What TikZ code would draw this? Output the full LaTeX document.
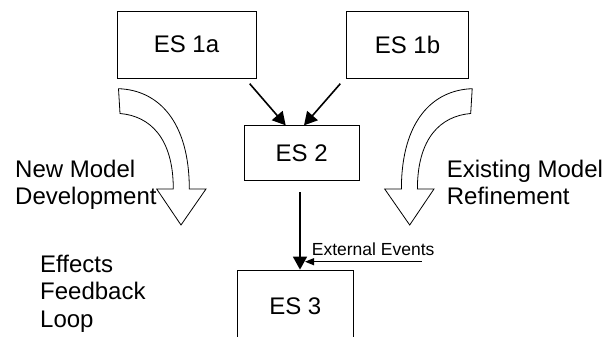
\documentclass[tikz,border=0pt]{standalone}
\usepackage{fontspec}
\setmainfont{Liberation Sans}
\usetikzlibrary{arrows.meta}

\tikzset{
  stage/.style={draw=black, line width=0.8pt, inner sep=0pt, fill=white,
    font=\fontsize{24}{27.5}\selectfont},
  label/.style={inner sep=0pt, align=left, font=\fontsize{24}{27.5}\selectfont},
  small/.style={inner sep=0pt, font=\fontsize{17.5}{20}\selectfont},
  flow/.style={line width=1.6pt, -{Triangle[length=13pt,width=14pt]}},
  inflow/.style={line width=1.1pt, -{Triangle[length=9pt,width=7pt]}},
  blockarrow/.style={draw=black, line width=0.8pt, fill=white, line join=miter},
  bendarrow/.pic={
    % curved hollow arrow, drawn relative to its tip
    \path[blockarrow]
      (-62.5,-136.3) .. controls (-23,-135) and (8.3,-104) .. (8.3,-36)
      -- (25,-36) -- (0,0) -- (-24.3,-36) -- (-7.7,-36)
      .. controls (-7.7,-87) and (-31,-109) .. (-61,-111.5) -- cycle;
  }
}

\begin{document}
\begin{tikzpicture}[x=1pt, y=-1pt]
  \clip (0,0) rectangle (603,337);
  \fill[white] (0,0) rectangle (603,337);

  % stages
  \node[stage, minimum width=139pt, minimum height=67pt] (es1a) at (186.5,44.5) {ES 1a};
  \node[stage, minimum width=121.6pt, minimum height=67pt] (es1b) at (407.5,44.5) {ES 1b};
  \node[stage, minimum width=115.3pt, minimum height=54.3pt] (es2) at (301.7,152.9) {ES 2};
  \node[stage, minimum width=116pt, minimum height=72pt] (es3) at (295.3,306) {ES 3};

  % merging arrows into ES 2
  \draw[flow] ([shift={(-6.7,5.3)}]es1a.south east) -- ([shift={(-16,0)}]es2.north);
  \draw[flow] ([shift={(-6,5.3)}]es1b.south west) -- ([shift={(2.3,0)}]es2.north);

  % ES 2 to ES 3
  \coordinate (down) at (300,192.3);
  \draw[flow] (down) -- (down |- es3.north);

  % external events
  \coordinate (extsrc) at (421.7,261.7);
  \coordinate (extdst) at (305,261.7);
  \draw[inflow] (extsrc) -- (extdst);
  \node[small, anchor=base west] (ext) at (311.7,255.7) {External Events};

  % curved development arrows
  \pic at (181,225) {bendarrow};
  \pic[xscale=-1] at (409.7,225) {bendarrow};

  % side labels (anchored at the baseline of their last line)
  \node[label, anchor=base west] (newm) at (15,204.5) {New Model\\Development};
  \node[label, anchor=base west] (exm) at (446.7,204.5) {Existing Model\\Refinement};
  \node[label, anchor=base west] (loop) at (40,327) {Effects\\Feedback\\Loop};
\end{tikzpicture}
\end{document}
